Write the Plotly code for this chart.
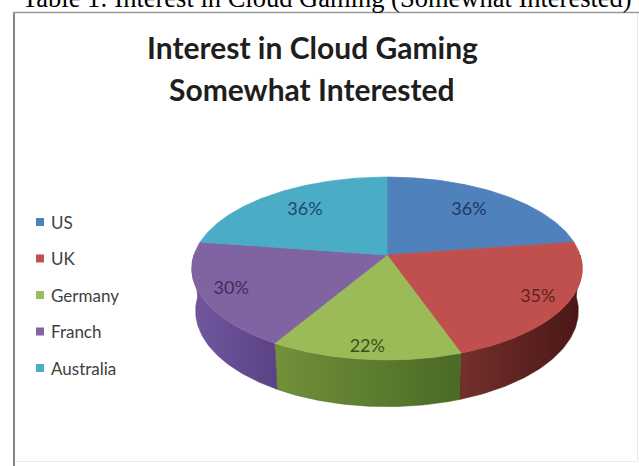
import numpy as np
import plotly.graph_objects as go

# ---- data -------------------------------------------------------------
countries = ["US", "UK", "Germany", "Franch", "Australia"]
interest_pct = [36, 35, 22, 30, 36]
label_text = [f"{v}%" for v in interest_pct]

chart_title = ["Interest in Cloud Gaming", "Somewhat Interested"]
caption = "Table 1: Interest in Cloud Gaming (Somewhat Interested)"

# ---- styling ----------------------------------------------------------
top_colors = ["#4f81bd", "#c0504d", "#9bbb59", "#8064a2", "#4bacc6"]
side_colors = [("#3e679a", "#2d4c73"), ("#74302d", "#4a1716"),
               ("#71913a", "#4a6a26"), ("#7257a0", "#5a4284"),
               ("#3b8fa7", "#2a6f82")]
label_colors = ["#1f3864", "#5e2220", "#36521a", "#3b2e58", "#1c4a6e"]

W, H = 639, 466
CX, CY = 387, 255          # projected centre of the pie's top face (px)
SCALE = 193                # radius scale (px)
ELEV = np.radians(27.6)    # viewing elevation
DIST = 6.0                 # camera distance (in radii) for perspective
THICK = 0.25               # pie thickness (in radii)


def project(phi, r=1.0, depth=0.0):
    """Project a point of the pie (angle phi, radius r, depth below top)."""
    x = r * np.cos(phi)
    zf = r * np.sin(phi)
    ycam = zf * np.sin(ELEV) - depth * np.cos(ELEV)
    zcam = zf * np.cos(ELEV) + depth * np.sin(ELEV)
    f = DIST / (DIST + zcam)
    return CX + SCALE * x * f, CY - SCALE * ycam * f


total = float(sum(interest_pct))
cum = np.concatenate([[0.0], np.cumsum(interest_pct)])
# slices start at 12 o'clock and run clockwise
starts = np.radians(90.0 - 360.0 * cum[:-1] / total)
ends = np.radians(90.0 - 360.0 * cum[1:] / total)

fig = go.Figure()

# ---- outer side wall (front half only) ---------------------------------
for i in range(len(countries)):
    a0 = min(starts[i], 0.0)
    a1 = max(ends[i], -np.pi)
    if a0 <= a1:
        continue
    phis = np.linspace(a0, a1, 80)
    tx, ty = project(phis)
    bx, by = project(phis[::-1], depth=THICK)
    xs = np.concatenate([tx, bx, tx[:1]])
    ys = np.concatenate([ty, by, ty[:1]])
    light, dark = side_colors[i]
    fig.add_trace(go.Scatter(
        x=xs, y=ys, mode="lines", fill="toself",
        line=dict(width=0.6, color=dark),
        fillcolor=light,
        fillgradient=dict(type="horizontal",
                          colorscale=[[0, light], [1, dark]]),
        hoverinfo="skip", showlegend=False))

# ---- top faces -----------------------------------------------------------
for i in range(len(countries)):
    phis = np.linspace(starts[i], ends[i], 120)
    rx, ry = project(phis)
    xs = np.concatenate([[CX], rx, [CX]])
    ys = np.concatenate([[CY], ry, [CY]])
    fig.add_trace(go.Scatter(
        x=xs, y=ys, mode="lines", fill="toself",
        line=dict(width=0.8, color=top_colors[i]),
        fillcolor=top_colors[i],
        hoverinfo="skip", showlegend=False))

# ---- data label anchors ----------------------------------------------------
# Directions are taken as the mid-angle of each wedge in the "un-squashed"
# screen space around the apex; the distance is a share of the rim distance
# along that direction, slightly larger towards the front of the pie.
back_px = CY - project(np.pi / 2)[1]
front_px = project(-np.pi / 2)[1] - CY
norm = SCALE / ((back_px + front_px) / 2.0)

dense_phi = np.linspace(np.pi / 2, np.pi / 2 - 2 * np.pi, 4001)
dx, dy = project(dense_phi)
dense_ang = np.unwrap(np.arctan2(-(dy - CY) * norm, dx - CX))


def screen_angle(phi):
    return np.interp(-phi, -dense_phi, dense_ang)


label_x, label_y = [], []
for i in range(len(countries)):
    mid = 0.5 * (screen_angle(starts[i]) + screen_angle(ends[i]))
    phi_rim = np.interp(-mid, -dense_ang, dense_phi)
    rx, ry = project(phi_rim)
    share = 0.80 - 0.09 * np.sin(mid)
    label_x.append(CX + share * (rx - CX))
    label_y.append(CY + share * (ry - CY))

fig.add_trace(go.Scatter(
    x=label_x, y=label_y, mode="text", text=label_text,
    textposition="middle center",
    textfont=dict(family="Lato", size=18, color=label_colors),
    hoverinfo="skip", showlegend=False))

# ---- legend (swatches + names) -------------------------------------------
LEG_X, LEG_Y0, LEG_STEP = 40, 222, 36.5
leg_y = [LEG_Y0 + LEG_STEP * k for k in range(len(countries))]
fig.add_trace(go.Scatter(
    x=[LEG_X] * len(countries), y=leg_y, mode="markers",
    marker=dict(symbol="square", size=8, color=top_colors,
                line=dict(width=0)),
    hoverinfo="skip", showlegend=False))

annotations = []
for name, yy in zip(countries, leg_y):
    annotations.append(dict(
        x=LEG_X + 9, y=yy, xref="x", yref="y", text=name, showarrow=False,
        xanchor="left", yanchor="middle",
        font=dict(family="Lato", size=17, color="#404040")))

# ---- titles --------------------------------------------------------------
for txt, yy in zip(chart_title, [47, 89]):
    annotations.append(dict(
        x=312, y=yy, xref="x", yref="y", text=txt, showarrow=False,
        xanchor="center", yanchor="middle",
        font=dict(family="Lato", size=30, color="#1e1e1e", weight="bold")))

# caption above the chart box (runs past the top edge of the page)
annotations.append(dict(
    x=327 / W, y=1 + 1.5 / H, xref="paper", yref="paper", text=caption,
    showarrow=False, xanchor="center", yanchor="middle",
    font=dict(family="Liberation Serif", size=26.5, color="#000000")))

# ---- chart frame -------------------------------------------------------
shapes = [
    dict(type="line", x0=14, y0=12, x1=14, y1=H, xref="x", yref="y",
         line=dict(color="#858585", width=2)),
    dict(type="line", x0=13, y0=12.5, x1=W, y1=12.5, xref="x", yref="y",
         line=dict(color="#9a9a9a", width=1.5)),
    dict(type="line", x0=637.5, y0=13, x1=637.5, y1=462, xref="x", yref="y",
         line=dict(color="#e6e6e6", width=1)),
    dict(type="line", x0=15, y0=461.5, x1=638, y1=461.5, xref="x", yref="y",
         line=dict(color="#ececec", width=1)),
]

fig.update_layout(
    width=W, height=H,
    margin=dict(l=0, r=0, t=0, b=0),
    paper_bgcolor="white", plot_bgcolor="white",
    showlegend=False,
    xaxis=dict(range=[0, W], visible=False, fixedrange=True),
    yaxis=dict(range=[H, 0], visible=False, fixedrange=True),
    annotations=annotations,
    shapes=shapes,
)

fig.write_html("out.html")
